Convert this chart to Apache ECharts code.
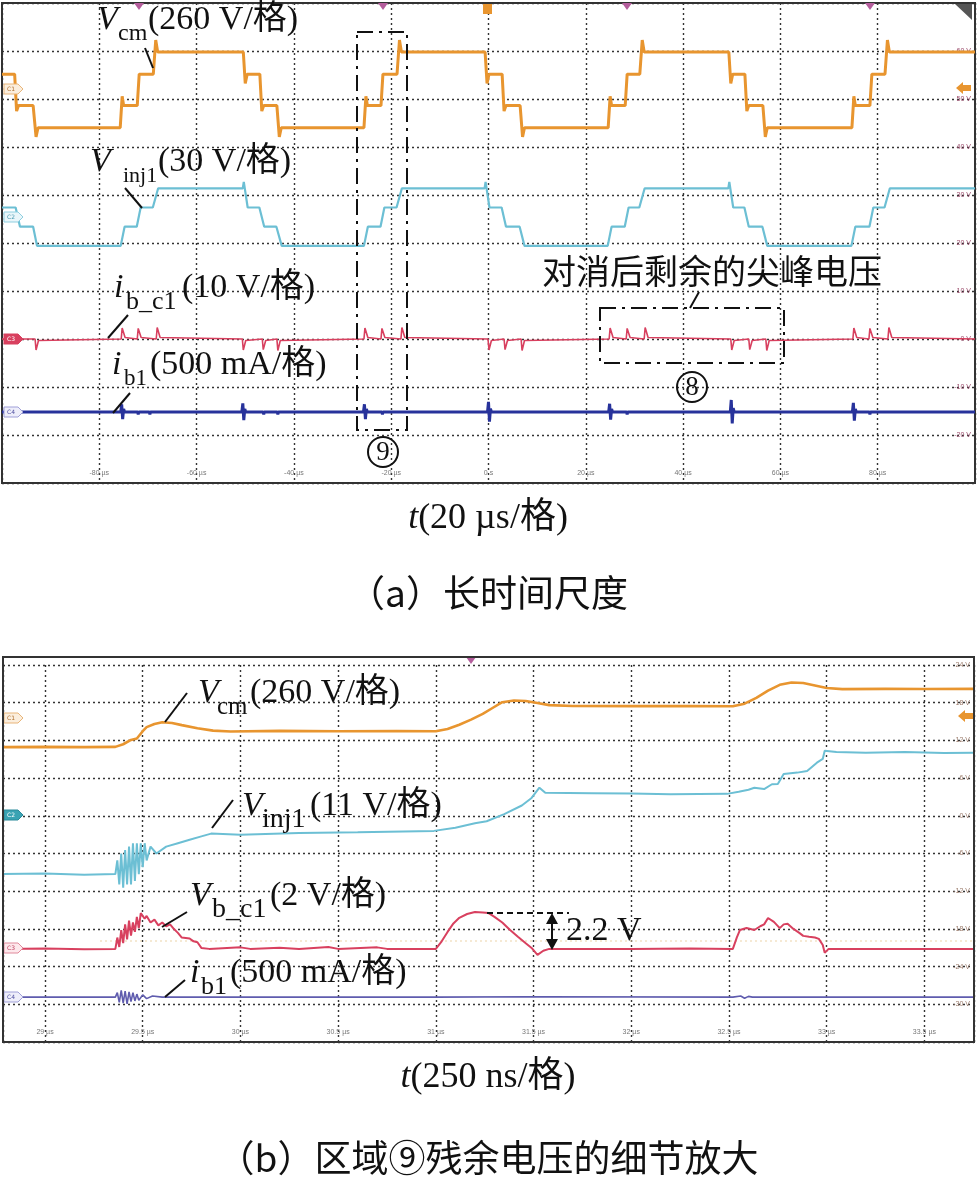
<!DOCTYPE html>
<html>
<head>
<meta charset="utf-8">
<script src="https://cdn.jsdelivr.net/npm/echarts@6/dist/echarts.min.js"></script>
<style>
html, body { margin: 0; padding: 0; background: #fff; }
#main { width: 977px; height: 1178px; }
</style>
</head>
<body>
<div id="main"></div>
<script>
// ---------- (a) 长时间尺度 : t in µs ----------
var aTicksX = [-80, -60, -40, -20, 0, 20, 40, 60, 80];
var aTickLabelsX = ['-80 µs', '-60 µs', '-40 µs', '-20 µs', '0 s', '20 µs', '40 µs', '60 µs', '80 µs'];
var aTicksY = [1, 2, 3, 4, 5, 6, 7, 8, 9];
var aTickLabelsY = ['-20 V', '-10 V', '0 V', '10 V', '20 V', '30 V', '40 V', '50 V', '60 V'];

// Vcm (V)
var aVcm = [[-100, 80], [-97.4, 80], [-97.0, -120], [-96.6, -90], [-93.6, -90], [-93.0, -260], [-92.6, -210],
    [-75.7, -210], [-75.3, -40], [-75.0, -90], [-72.2, -90], [-71.8, 80], [-68.9, 80], [-68.4, 265], [-68.0, 200],
    [-50.4, 200], [-50.0, 30], [-49.6, 80], [-47.0, 80], [-46.6, -120], [-46.2, -90], [-43.5, -90], [-43.0, -260], [-42.6, -210],
    [-25.6, -210], [-25.2, -40], [-24.9, -90], [-22.1, -90], [-21.7, 80], [-18.8, 80], [-18.3, 265], [-17.9, 200],
    [-0.7, 200], [-0.3, 30], [0.1, 80], [2.8, 80], [3.2, -120], [3.6, -90], [6.5, -90], [7.0, -260], [7.4, -210],
    [24.6, -210], [25.0, -40], [25.3, -90], [28.1, -90], [28.5, 80], [31.1, 80], [31.6, 265], [32.0, 200],
    [49.4, 200], [49.8, 30], [50.2, 80], [52.7, 80], [53.1, -120], [53.5, -90], [56.4, -90], [56.9, -260], [57.3, -210],
    [74.7, -210], [75.1, -40], [75.4, -90], [78.4, -90], [78.8, 80], [81.5, 80], [82.0, 265], [82.4, 200], [100, 200]];

// Vinj1 (V)
var aVinj = [[-100, 6], [-97.2, 6], [-96.3, -6], [-93.6, -6], [-92.8, -18], [-75.6, -18], [-74.8, -6], [-72.3, -6], [-71.5, 6],
    [-69.0, 6], [-67.9, 18], [-50.5, 18], [-50.3, 22], [-49.5, 6], [-47.1, 6], [-46.1, -6], [-43.6, -6], [-42.5, -18],
    [-25.6, -18], [-24.8, -6], [-22.2, -6], [-21.4, 6], [-18.9, 6], [-17.8, 18], [-0.8, 18], [-0.6, 22], [0.2, 6],
    [2.7, 6], [3.6, -6], [6.4, -6], [7.4, -18], [24.5, -18], [25.3, -6], [28.0, -6], [28.8, 6], [31.0, 6], [32.1, 18],
    [49.3, 18], [49.5, 22], [50.3, 6], [52.6, 6], [53.5, -6], [56.3, -6], [57.3, -18], [74.6, -18], [75.4, -6],
    [78.3, -6], [79.1, 6], [81.4, 6], [82.5, 18], [100, 18]];

// i_b_c1 (V)
var aIbc1 = [[-100, 0],
    [-93.2, 0], [-93.0, -2.3], [-92.5, -0.3], [-92.2, 0],
    [-75.5, 0], [-75.3, 2.3], [-74.7, 0.3], [-74.4, 0],
    [-72.2, 0], [-72.0, 2.2], [-71.4, 0.3], [-71.1, 0],
    [-68.3, 0], [-68.1, 2.4], [-67.5, 0.3], [-67.2, 0],
    [-50.6, 0], [-50.4, -2.3], [-49.9, -0.3], [-49.6, 0],
    [-46.5, 0], [-46.3, -2.2], [-45.8, -0.3], [-45.5, 0],
    [-43.5, 0], [-43.3, -2.4], [-42.8, -0.3], [-42.5, 0],
    [-25.6, 0], [-25.4, 2.3], [-24.8, 0.3], [-24.5, 0],
    [-22.1, 0], [-21.9, 2.2], [-21.3, 0.3], [-21.0, 0],
    [-18.0, 0], [-17.8, 2.4], [-17.2, 0.3], [-16.9, 0],
    [-0.1, 0], [0.1, -2.3], [0.6, -0.3], [0.9, 0],
    [3.2, 0], [3.4, -2.2], [3.9, -0.3], [4.2, 0],
    [6.7, 0], [6.9, -2.4], [7.4, -0.3], [7.7, 0],
    [24.8, 0], [25.0, 2.3], [25.6, 0.3], [25.9, 0],
    [28.3, 0], [28.5, 2.2], [29.1, 0.3], [29.4, 0],
    [32.0, 0], [32.2, 2.4], [32.8, 0.3], [33.1, 0],
    [49.8, 0], [50.0, -2.3], [50.5, -0.3], [50.8, 0],
    [53.5, 0], [53.7, -2.2], [54.2, -0.3], [54.5, 0],
    [57.0, 0], [57.2, -2.4], [57.7, -0.3], [58.0, 0],
    [74.9, 0], [75.1, 2.3], [75.7, 0.3], [76.0, 0],
    [78.2, 0], [78.4, 2.2], [79.0, 0.3], [79.3, 0],
    [82.1, 0], [82.3, 2.4], [82.9, 0.3], [83.2, 0],
    [100, 0]];

// i_b1 (mA)
var aIb1 = [[-100, 0],
    [-75.6, 0], [-75.4, 80], [-75.2, -75], [-75.0, 30], [-74.8, 0],
    [-72.1, 0], [-72.0, -25], [-71.9, 0], [-69.7, 0], [-69.6, -25], [-69.5, 0], [-68.1, 0], [-68.0, -20], [-67.9, 0],
    [-50.7, 0], [-50.5, 90], [-50.3, -85], [-50.1, 30], [-49.9, 0],
    [-46.3, 0], [-46.2, -25], [-46.1, 0], [-43.4, 0], [-43.3, -25], [-43.2, 0],
    [-25.7, 0], [-25.5, 80], [-25.3, -75], [-25.1, 30], [-24.9, 0],
    [-21.9, 0], [-21.8, -25], [-21.7, 0], [-17.9, 0], [-17.8, -20], [-17.7, 0],
    [-0.2, 0], [0, 105], [0.2, -100], [0.4, 35], [0.6, 0],
    [6.6, 0], [6.7, -20], [6.8, 0],
    [24.7, 0], [24.9, 85], [25.1, -80], [25.3, 30], [25.5, 0],
    [28.4, 0], [28.5, -25], [28.6, 0], [31.2, 0], [31.3, -20], [31.4, 0],
    [49.7, 0], [49.9, 125], [50.1, -120], [50.3, 40], [50.5, 0],
    [56.2, 0], [56.3, -20], [56.4, 0],
    [74.8, 0], [75.0, 95], [75.2, -90], [75.4, 30], [75.6, 0],
    [78.3, 0], [78.4, -25], [78.5, 0],
    [100, 0]];

// ---------- (b) 区域⑨细节 : t in µs ----------
var bTicksX = [29, 29.5, 30, 30.5, 31, 31.5, 32, 32.5, 33, 33.5];
var bTickLabelsX = ['29 µs', '29.5 µs', '30 µs', '30.5 µs', '31 µs', '31.5 µs', '32 µs', '32.5 µs', '33 µs', '33.5 µs'];
var bTicksY = [1, 2, 3, 4, 5, 6, 7, 8, 9, 10];
var bTickLabelsY = ['-30 V', '-24 V', '-18 V', '-12 V', '-6 V', '0 V', '6 V', '12 V', '18 V', '24 V'];

var bVcm = [[28.78, -200], [29.0, -198], [29.2, -200], [29.36, -198], [29.40, -180], [29.44, -150], [29.47, -140],
    [29.50, -90], [29.52, -62], [29.56, -40], [29.60, -28], [29.65, -33], [29.70, -48], [29.78, -70], [29.86, -86],
    [29.95, -92], [30.2, -88], [30.5, -90], [30.8, -89], [31.0, -90], [31.06, -75], [31.12, -45], [31.18, -10],
    [31.24, 30], [31.29, 70], [31.34, 110], [31.40, 122], [31.46, 118], [31.52, 105], [31.58, 90], [31.7, 84],
    [32.0, 83], [32.3, 84], [32.52, 82], [32.58, 100], [32.64, 140], [32.70, 190], [32.76, 230], [32.82, 246],
    [32.88, 242], [32.94, 225], [33.00, 208], [33.08, 200], [33.3, 202], [33.5, 201], [33.75, 202]];

var bVinj = [[28.78, -17], [29.0, -16.8], [29.2, -17.2], [29.36, -17], [29.37, -13], [29.38, -20], [29.39, -11],
    [29.40, -21], [29.41, -10], [29.42, -20], [29.43, -9], [29.44, -20], [29.45, -8], [29.46, -19], [29.47, -8],
    [29.48, -17], [29.49, -8], [29.50, -15], [29.51, -8], [29.52, -13], [29.54, -9], [29.57, -11], [29.62, -9],
    [29.68, -8], [29.74, -7], [29.80, -6], [29.85, -5.2], [30.0, -5.5], [30.3, -5], [30.6, -4.8], [30.99, -4.4],
    [31.1, -3.5], [31.2, -2.2], [31.26, -1.6], [31.35, 0.5], [31.44, 3], [31.49, 5.2], [31.53, 8.2], [31.56, 6.7],
    [31.8, 6.6], [32.0, 6.5], [32.2, 6.3], [32.49, 6.4], [32.55, 7.0], [32.6, 7.6], [32.63, 8.2], [32.68, 7.8],
    [32.72, 9.2], [32.75, 9.3], [32.78, 12.2], [32.85, 12.6], [32.9, 13.1], [32.95, 15.5], [32.98, 16.6],
    [32.99, 19.0], [33.05, 18.6], [33.2, 18.4], [33.4, 18.6], [33.6, 18.3], [33.75, 18.4]];

var bVbc1 = [[28.78, 0], [29.0, 0.02], [29.2, -0.02], [29.36, 0], [29.37, 0.6], [29.38, 0.1], [29.39, 1.0], [29.40, 0.3],
    [29.41, 1.3], [29.42, 0.5], [29.43, 1.5], [29.44, 0.7], [29.45, 1.4], [29.46, 0.9], [29.47, 1.7], [29.48, 1.1],
    [29.49, 1.9], [29.50, 1.96], [29.51, 1.6], [29.52, 1.75], [29.54, 1.4], [29.56, 1.55], [29.58, 1.25], [29.60, 1.4],
    [29.62, 1.2], [29.64, 1.3], [29.66, 1.05], [29.68, 0.85], [29.70, 0.6], [29.74, 0.55], [29.76, 0.4], [29.78, 0.35],
    [29.80, 0.05], [29.84, 0], [30.0, 0.08], [30.05, 0], [30.2, 0.06], [30.3, 0], [30.45, 0.1], [30.5, 0],
    [30.7, 0.08], [30.75, 0], [31.00, 0], [31.03, 0.4], [31.06, 0.9], [31.09, 1.35], [31.12, 1.65], [31.16, 1.85],
    [31.20, 1.96], [31.24, 1.93], [31.27, 1.9], [31.30, 1.7], [31.34, 1.4], [31.38, 1.0], [31.42, 0.64], [31.46, 0.3],
    [31.49, 0.05], [31.52, -0.32], [31.55, -0.1], [31.58, 0], [32.0, 0], [32.3, 0.02], [32.52, 0], [32.54, 0.6],
    [32.556, 1.0], [32.59, 1.11], [32.63, 1.0], [32.66, 1.2], [32.68, 1.3], [32.70, 1.64], [32.73, 1.43], [32.76, 1.1],
    [32.78, 1.3], [32.80, 1.33], [32.83, 1.06], [32.86, 0.85], [32.88, 0.69], [32.91, 0.64], [32.94, 0.6],
    [32.96, 0.53], [32.98, 0.21], [32.99, -0.21], [33.01, 0], [33.75, 0]];

var bIb1 = [[28.78, 0], [29.36, 0], [29.37, 60], [29.38, -70], [29.39, 90], [29.40, -80], [29.41, 80], [29.42, -90],
    [29.43, 70], [29.44, -60], [29.45, 60], [29.46, -50], [29.47, 40], [29.48, -40], [29.50, 30], [29.52, -20],
    [29.55, 15], [29.60, 0], [31.0, 0], [31.5, 5], [32.52, 0], [32.56, 15], [32.58, -15], [32.60, 10], [32.62, 0],
    [33.75, 0]];

// 每格刻度和零位（格）
function chAxis(grid, perDiv, zeroDiv) {
    return {gridIndex: grid, type: 'value', show: false, min: -zeroDiv * perDiv, max: (10 - zeroDiv) * perDiv};
}
function pick(ticks, labels) {
    return function (v) {
        var i = ticks.indexOf(Math.round(v * 100) / 100);
        return i < 0 ? '' : labels[i];
    };
}
var gridLine = {show: true, lineStyle: {color: '#333', width: 1.4, type: [2, 3]}};
var SERIF = '"Liberation Serif", "Noto Sans CJK SC"';
var CJK = '"Noto Sans CJK SC"';

function txt(x, y, s, font, align) {
    return {type: 'text', x: x, y: y, z: 100, style: {text: s, font: font, fill: '#111',
        textAlign: align || 'left', textVerticalAlign: 'middle', align: align || 'left', verticalAlign: 'middle'}};
}
function seg(x1, y1, x2, y2, w, dash) {
    return {type: 'line', z: 100, shape: {x1: x1, y1: y1, x2: x2, y2: y2},
        style: {stroke: '#111', lineWidth: w || 2, lineDash: dash || null}};
}
// 带下标的标签：主符号、下标、说明
function label(x, y, main, sub, rest, subX, restX, subSize) {
    return [
        txt(x, y, main, 'italic 34px ' + SERIF),
        txt(subX, y + 14, sub, subSize + 'px ' + SERIF),
        txt(restX, y, rest, '34px ' + SERIF)
    ];
}
function circled(x, y, s) {
    return [{type: 'circle', z: 100, shape: {cx: x, cy: y, r: 15}, style: {fill: 'none', stroke: '#111', lineWidth: 2}},
        txt(x, y + 1, s, '27px ' + SERIF, 'center')];
}
function tag(y, name, fill, stroke, color) {
    return [{type: 'polygon', z: 90, shape: {points: [[4, y - 5], [18, y - 5], [23, y], [18, y + 5], [4, y + 5]]},
        style: {fill: fill, stroke: stroke, lineWidth: 1}},
        {type: 'text', x: 11, y: y, z: 91, style: {text: name, font: '6px "DejaVu Sans"', fill: color,
            textAlign: 'center', textVerticalAlign: 'middle', align: 'center', verticalAlign: 'middle'}}];
}
function downTri(x, y, c) {
    return {type: 'polygon', z: 90, shape: {points: [[x - 5, y], [x + 5, y], [x, y + 7]]}, style: {fill: c}};
}
function leftArrow(x, y, c) {
    return {type: 'polygon', z: 90, shape: {points: [[x, y], [x + 7, y - 6], [x + 7, y - 3], [x + 15, y - 3],
        [x + 15, y + 3], [x + 7, y + 3], [x + 7, y + 6]]}, style: {fill: c}};
}
function caption(y, a, b) {
    return {type: 'text', x: 488, y: y, z: 100, style: {text: '{i|' + a + '}{n|' + b + '}', textAlign: 'center',
        textVerticalAlign: 'middle', align: 'center', verticalAlign: 'middle',
        rich: {i: {fontFamily: SERIF, fontStyle: 'italic', fontSize: 36, fill: '#111'},
            n: {fontFamily: SERIF, fontSize: 36, fill: '#111'}}}};
}

var ORANGE = '#e8952f', CYAN = '#6cbfd4', RED = '#d8405f', NAVY = '#27329b', PURPLE = '#5f5cae';
var DASHDOT = [16, 6, 3, 6];

var graphics = [].concat(
    // (a) annotations
    label(97, 20, 'V', 'cm', '(260 V/格)', 118, 148, 24),
    label(90, 162, 'V', 'inj1', '(30 V/格)', 123, 158, 22),
    label(114, 288, 'i', 'b_c1', '(10 V/格)', 126, 182, 26),
    label(112, 365, 'i', 'b1', '(500 mA/格)', 124, 150, 23),
    [seg(145, 48, 153, 68), seg(125, 188, 142, 208), seg(128, 315, 108, 338), seg(130, 393, 113, 413),
        txt(542, 271, '对消后剩余的尖峰电压', '34px ' + CJK),
        seg(699, 292, 690, 308),
        {type: 'rect', z: 100, shape: {x: 600, y: 308, width: 184, height: 55},
            style: {fill: 'none', stroke: '#111', lineWidth: 2, lineDash: DASHDOT}},
        {type: 'rect', z: 100, shape: {x: 357, y: 32, width: 50, height: 398},
            style: {fill: 'none', stroke: '#111', lineWidth: 2, lineDash: DASHDOT}},
        downTri(139, 3, '#b45d9c'), downTri(383, 3, '#b45d9c'), downTri(627, 3, '#b45d9c'), downTri(870, 3, '#b45d9c'),
        {type: 'rect', z: 90, shape: {x: 483, y: 4, width: 9, height: 10}, style: {fill: ORANGE}},
        {type: 'polygon', z: 90, shape: {points: [[955, 4], [972, 4], [972, 20]]}, style: {fill: '#555'}},
        leftArrow(956, 88, ORANGE)],
    circled(692, 387, '8'),
    circled(383, 452, '9'),
    tag(89, 'C1', '#fbeedd', '#e8b57a', '#b07030'),
    tag(217, 'C2', '#e9f6fa', '#8fcfe0', '#4a9ab0'),
    tag(339, 'C3', RED, RED, '#fff'),
    tag(412, 'C4', '#eeeefa', '#a0a0d8', '#5050a0'),
    // (a) captions
    [caption(519, 't', '(20 µs/格)'),
        txt(488, 593, '（a）长时间尺度', '37px ' + CJK, 'center')],
    // (b) frame & annotations
    [{type: 'rect', z: 95, shape: {x: 3, y: 657, width: 971, height: 385},
        style: {fill: 'none', stroke: '#333', lineWidth: 2}},
        {type: 'line', z: 3, shape: {x1: 100, y1: 941, x2: 972, y2: 941},
            style: {stroke: '#ecd3a8', lineWidth: 1.2, lineDash: [2, 3]}}],
    label(198, 693, 'V', 'cm', '(260 V/格)', 217, 250, 25),
    label(242, 806, 'V', 'inj1', '(11 V/格)', 262, 310, 28),
    label(190, 896, 'V', 'b_c1', '(2 V/格)', 212, 270, 28),
    label(190, 973, 'i', 'b1', '(500 mA/格)', 201, 230, 26),
    [seg(187, 693, 165, 722), seg(233, 800, 212, 828), seg(187, 912, 162, 927), seg(185, 980, 165, 997),
        seg(487, 913, 569, 913, 2, [6, 4]),
        seg(552, 919, 552, 944, 2),
        {type: 'polygon', z: 100, shape: {points: [[552, 913], [546, 924], [558, 924]]}, style: {fill: '#111'}},
        {type: 'polygon', z: 100, shape: {points: [[552, 950], [546, 939], [558, 939]]}, style: {fill: '#111'}},
        txt(566, 931, '2.2 V', '34px ' + SERIF),
        downTri(471, 657, '#b45d9c'),
        leftArrow(958, 716, ORANGE)],
    tag(718, 'C1', '#fbeedd', '#e8b57a', '#b07030'),
    tag(815, 'C2', '#3aa3b3', '#2a8a9a', '#fff'),
    tag(948, 'C3', '#fde8ec', '#e08a9c', '#c04060'),
    tag(997, 'C4', '#eeeefa', '#a0a0d8', '#5050a0'),
    [caption(1078, 't', '(250 ns/格)'),
        txt(488, 1158, '（b）区域⑨残余电压的细节放大', '37px ' + CJK, 'center')]
);

var myChart = echarts.init(document.getElementById('main'));
var option = {
    animation: false,
    backgroundColor: '#fff',
    grid: [
        {left: 2, top: 3, width: 973, height: 480, show: true, borderColor: '#333', borderWidth: 2},
        {left: 3, top: 665, width: 971, height: 377}
    ],
    xAxis: [
        {gridIndex: 0, type: 'value', min: -100, max: 100, interval: 20,
            axisLine: {show: false}, axisTick: {show: false}, splitLine: gridLine,
            axisLabel: {inside: true, margin: 6, fontSize: 7, color: '#777', showMinLabel: false, showMaxLabel: false,
                formatter: pick(aTicksX, aTickLabelsX)}},
        // 屏幕左右边缘：28.785 µs ~ 33.754 µs，刻度 0.5 µs
        {gridIndex: 1, type: 'value', min: 28.785, max: 33.754, splitNumber: 10,
            axisLine: {show: false}, axisTick: {show: false}, splitLine: gridLine,
            axisLabel: {inside: true, margin: 6, fontSize: 7, color: '#777', showMinLabel: false, showMaxLabel: false,
                formatter: pick(bTicksX, bTickLabelsX)}}
    ],
    yAxis: [
        {gridIndex: 0, type: 'value', min: 0, max: 10, interval: 1, position: 'right',
            axisLine: {show: false}, axisTick: {show: false}, splitLine: gridLine,
            axisLabel: {inside: true, margin: 4, fontSize: 7, color: '#9a4a6a', formatter: pick(aTicksY, aTickLabelsY)}},
        chAxis(0, 260, 8.21),
        chAxis(0, 30, 5.54),
        chAxis(0, 10, 3.0),
        chAxis(0, 500, 1.48),
        {gridIndex: 1, type: 'value', min: 0, max: 10, interval: 1, position: 'right',
            axisLine: {show: false}, axisTick: {show: false}, splitLine: gridLine,
            axisLabel: {inside: true, margin: 4, fontSize: 7, color: '#9a7a6a', formatter: pick(bTicksY, bTickLabelsY)}},
        chAxis(1, 260, 8.59),
        chAxis(1, 11, 6.0),
        chAxis(1, 2, 2.47),
        chAxis(1, 500, 1.19)
    ],
    series: [
        {name: 'Vcm', type: 'line', xAxisIndex: 0, yAxisIndex: 1, data: aVcm, showSymbol: false,
            lineStyle: {color: ORANGE, width: 3}},
        {name: 'Vinj1', type: 'line', xAxisIndex: 0, yAxisIndex: 2, data: aVinj, showSymbol: false,
            lineStyle: {color: CYAN, width: 2.2}},
        {name: 'ib_c1', type: 'line', xAxisIndex: 0, yAxisIndex: 3, data: aIbc1, showSymbol: false,
            lineStyle: {color: RED, width: 1.6}},
        {name: 'ib1', type: 'line', xAxisIndex: 0, yAxisIndex: 4, data: aIb1, showSymbol: false,
            lineStyle: {color: NAVY, width: 3}},
        {name: 'Vcm b', type: 'line', xAxisIndex: 1, yAxisIndex: 6, data: bVcm, showSymbol: false,
            lineStyle: {color: ORANGE, width: 2.6}},
        {name: 'Vinj1 b', type: 'line', xAxisIndex: 1, yAxisIndex: 7, data: bVinj, showSymbol: false,
            lineStyle: {color: CYAN, width: 2}},
        {name: 'Vb_c1 b', type: 'line', xAxisIndex: 1, yAxisIndex: 8, data: bVbc1, showSymbol: false,
            lineStyle: {color: RED, width: 2}},
        {name: 'ib1 b', type: 'line', xAxisIndex: 1, yAxisIndex: 9, data: bIb1, showSymbol: false,
            lineStyle: {color: PURPLE, width: 1.6}}
    ],
    graphic: {elements: graphics}
};
myChart.setOption(option);
</script>
</body>
</html>
